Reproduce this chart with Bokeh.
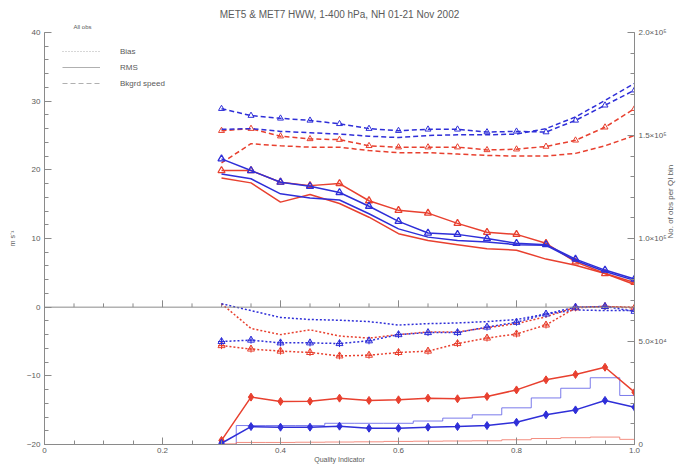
from math import pi
from bokeh.plotting import figure
from bokeh.models import (Range1d, LinearAxis, FixedTicker, Span, Legend, LegendItem, Title)
from bokeh.embed import file_html
from bokeh.resources import INLINE

# ---------------- data ----------------
qi = [0.30, 0.35, 0.40, 0.45, 0.50, 0.55, 0.60, 0.65, 0.70, 0.75, 0.80, 0.85, 0.90, 0.95, 1.00]

# background speed (dashed), m/s
speed_blue_tri = [28.9, 27.9, 27.5, 27.2, 26.7, 26.0, 25.7, 25.9, 25.9, 25.5, 25.6, 25.5, 27.2, 29.4, 31.6]
speed_blue     = [25.9, 26.0, 25.6, 25.4, 25.2, 24.9, 24.7, 25.0, 25.1, 25.1, 25.2, 26.0, 27.7, 30.1, 32.6]
speed_red_tri  = [25.7, 26.0, 24.9, 24.5, 24.4, 23.5, 23.3, 23.3, 23.3, 22.9, 23.0, 23.4, 24.3, 26.2, 28.9]
speed_red      = [21.0, 23.8, 23.5, 23.3, 23.3, 22.8, 22.5, 22.5, 22.3, 22.1, 22.0, 22.0, 22.4, 23.5, 25.0]

# RMS (solid), m/s
rms_blue_tri = [21.6, 19.9, 18.2, 17.6, 16.7, 14.7, 12.5, 10.8, 10.6, 10.0, 9.3, 9.1, 7.0, 5.4, 4.1]
rms_red_tri  = [19.9, 19.9, 18.2, 17.7, 18.0, 15.5, 14.1, 13.7, 12.2, 10.9, 10.6, 9.3, 6.6, 4.9, 3.6]
rms_blue     = [19.4, 18.7, 16.5, 15.9, 15.6, 13.6, 11.4, 10.2, 9.7, 9.5, 9.1, 9.0, 6.8, 5.2, 3.9]
rms_red      = [18.8, 18.1, 15.3, 16.4, 15.1, 13.1, 10.7, 9.7, 9.1, 8.5, 8.3, 7.0, 6.1, 4.9, 3.3]

# Bias (dotted), m/s
bias_blue_tri = [-5.0, -4.8, -5.2, -5.2, -5.3, -4.9, -4.0, -3.7, -3.7, -2.9, -2.2, -1.0, 0.0, 0.1, -0.6]
bias_red_tri  = [-5.6, -6.1, -6.4, -6.6, -7.1, -7.0, -6.6, -6.4, -5.3, -4.5, -3.9, -2.6, -0.1, 0.1, -0.1]
bias_blue     = [0.5, -0.5, -1.5, -1.8, -1.9, -2.1, -2.6, -2.4, -2.3, -2.1, -1.8, -1.0, -0.4, -0.5, -0.5]
bias_red      = [0.5, -3.1, -4.0, -3.3, -4.2, -4.5, -4.0, -3.6, -3.6, -3.0, -2.4, -1.4, 0.0, 0.1, 0.0]

# Number of obs per QI bin (right axis)
count_red_dia  = [2000, 23000, 20900, 21000, 22500, 21400, 21700, 22500, 22200, 23300, 26500, 31400, 34000, 37500, 25400]
count_blue_dia = [600, 8700, 8400, 8400, 8900, 7900, 7900, 8400, 8700, 9200, 10800, 14400, 16800, 21400, 18100]
hist_blue      = [0, 9200, 9200, 9200, 10300, 10300, 10300, 11400, 12800, 14400, 17800, 22600, 27300, 32400, 23800]
hist_red       = [300, 1000, 1000, 1100, 1200, 1300, 1500, 1600, 1700, 1800, 2300, 2900, 3300, 3600, 2500]

# axis ticks / labels
x_major = [0, 0.2, 0.4, 0.6, 0.8, 1.0]
x_labels = {0: "0", 0.2: "0.2", 0.4: "0.4", 0.6: "0.6", 0.8: "0.8", 1.0: "1.0"}
x_minor = [i * 0.05 for i in range(21)]
y_major = [-20, -10, 0, 10, 20, 30, 40]
y_minor = list(range(-20, 41, 2))
n_major = [0, 50000, 100000, 150000, 200000]
n_labels = {0: "0", 50000: "5.0\u00d710\u2074", 100000: "1.0\u00d710\u2075",
            150000: "1.5\u00d710\u2075", 200000: "2.0\u00d710\u2075"}
n_minor = list(range(0, 200001, 10000))

title_text = "MET5 & MET7 HWW, 1-400 hPa, NH 01-21 Nov 2002"
subtitle_text = "All obs"
x_title = "Quality Indicator"
y_title = "m s\u207b\u00b9"
n_title = "No. of obs per QI bin"

RED = "#e8402f"
BLUE = "#2f2fd8"
AX = "#8a8a8a"
TXT = "#5a5a5a"
FONT = "Liberation Sans"

p = figure(width=682, height=465, x_range=Range1d(0, 1), y_range=Range1d(-20, 40),
           output_backend="svg", toolbar_location=None,
           min_border_left=44, min_border_right=47, min_border_top=32, min_border_bottom=21,
           x_axis_type=None, y_axis_type=None)
p.outline_line_color = None
p.background_fill_color = "white"
p.border_fill_color = "white"
p.extra_y_ranges = {"count": Range1d(0, 200000)}


def style_axis(ax):
    ax.axis_line_color = AX
    ax.major_tick_line_color = AX
    ax.minor_tick_line_color = AX
    ax.major_tick_in = 7
    ax.major_tick_out = 0
    ax.minor_tick_in = 4
    ax.minor_tick_out = 0
    ax.major_label_text_font = FONT
    ax.major_label_text_font_size = "8px"
    ax.major_label_text_color = TXT
    ax.major_label_standoff = 4
    ax.axis_label_text_font = FONT
    ax.axis_label_text_font_style = "normal"
    ax.axis_label_text_color = TXT


xax = LinearAxis(ticker=FixedTicker(ticks=x_major, minor_ticks=x_minor), major_label_overrides=x_labels,
                 axis_label=x_title)
style_axis(xax)
xax.major_label_standoff = 3
xax.axis_label_standoff = 0
xax.axis_label_text_font_size = "7px"
p.add_layout(xax, "below")

yax = LinearAxis(ticker=FixedTicker(ticks=y_major, minor_ticks=y_minor), axis_label=y_title)
style_axis(yax)
yax.axis_label_standoff = 8
yax.axis_label_text_font_size = "7px"
p.add_layout(yax, "left")

rax = LinearAxis(y_range_name="count", ticker=FixedTicker(ticks=n_major, minor_ticks=n_minor),
                 major_label_overrides=n_labels, axis_label=n_title)
style_axis(rax)
rax.axis_label_standoff = 1
rax.axis_label_text_font_size = "8px"
rax.axis_label_orientation = pi / 2
p.add_layout(rax, "right")

# titles
sub = Title(text=subtitle_text, align="left", offset=29, text_font=FONT, text_font_size="6px",
            text_font_style="normal", text_color=TXT, standoff=5)
p.add_layout(sub, "above")
ttl = Title(text=title_text, align="center", text_font=FONT, text_font_size="10px",
            text_font_style="normal", text_color=TXT, standoff=0)
p.add_layout(ttl, "above")

# zero line with upward ticks
p.add_layout(Span(location=0, dimension="width", line_color=AX, line_width=1))
p.segment(x0=x_major, y0=[0] * len(x_major), x1=x_major, y1=[1.0] * len(x_major), line_color=AX, line_width=1)
p.segment(x0=x_minor, y0=[0] * len(x_minor), x1=x_minor, y1=[0.55] * len(x_minor), line_color=AX, line_width=1)

LW = 1.5
DASH = "5 3"
DOT = "2 2"

# histograms (thin)
p.step(qi, hist_blue, mode="center", y_range_name="count", line_color="#5a5ae6", line_width=1, line_alpha=0.8)
p.step(qi, hist_red, mode="center", y_range_name="count", line_color="#f07060", line_width=1, line_alpha=0.8)

# background speed
p.line(qi, speed_red, line_color=RED, line_width=LW, line_dash=DASH)
p.line(qi, speed_red_tri, line_color=RED, line_width=LW, line_dash=DASH)
p.scatter(qi, speed_red_tri, marker="triangle", size=6, line_color=RED, fill_color=None)
p.line(qi, speed_blue, line_color=BLUE, line_width=LW, line_dash=DASH)
p.line(qi, speed_blue_tri, line_color=BLUE, line_width=LW, line_dash=DASH)
p.scatter(qi, speed_blue_tri, marker="triangle", size=6, line_color=BLUE, fill_color=None)

# RMS
p.line(qi, rms_red, line_color=RED, line_width=LW)
p.line(qi, rms_red_tri, line_color=RED, line_width=LW)
p.scatter(qi, rms_red_tri, marker="triangle", size=7, line_color=RED, fill_color=None, line_width=1.3)
p.line(qi, rms_blue, line_color=BLUE, line_width=LW)
p.line(qi, rms_blue_tri, line_color=BLUE, line_width=LW)
p.scatter(qi, rms_blue_tri, marker="triangle", size=7, line_color=BLUE, fill_color=None, line_width=1.3)

# Bias
p.line(qi, bias_red, line_color=RED, line_width=LW, line_dash=DOT)
p.line(qi, bias_blue, line_color=BLUE, line_width=LW, line_dash=DOT)
p.line(qi, bias_red_tri, line_color=RED, line_width=LW, line_dash=DOT)
p.scatter(qi, bias_red_tri, marker="triangle", size=7, line_color=RED, fill_color=None)
p.scatter(qi, bias_red_tri, marker="cross", size=7, line_color=RED)
p.line(qi, bias_blue_tri, line_color=BLUE, line_width=LW, line_dash=DOT)
p.scatter(qi, bias_blue_tri, marker="triangle", size=7, line_color=BLUE, fill_color=None)
p.scatter(qi, bias_blue_tri, marker="cross", size=7, line_color=BLUE)

# counts with diamonds
p.line(qi, count_red_dia, y_range_name="count", line_color=RED, line_width=LW)
p.scatter(qi, count_red_dia, y_range_name="count", marker="diamond", size=8, line_color=RED, fill_color=RED)
p.line(qi, count_blue_dia, y_range_name="count", line_color=BLUE, line_width=LW)
p.scatter(qi, count_blue_dia, y_range_name="count", marker="diamond", size=8, line_color=BLUE, fill_color=BLUE)

# legend (proxy renderers placed outside the visible range)
LG = "#b0b0b0"
proxy_x = [-5, -4]
proxy_y = [-100, -100]
r_bias = p.line(proxy_x, proxy_y, line_color=LG, line_width=1.2, line_dash="1 2")
r_rms = p.line(proxy_x, proxy_y, line_color=LG, line_width=1.2)
r_bk = p.line(proxy_x, proxy_y, line_color=LG, line_width=1.2, line_dash="5 3")
legend = Legend(items=[LegendItem(label="Bias", renderers=[r_bias]),
                       LegendItem(label="RMS", renderers=[r_rms]),
                       LegendItem(label="Bkgrd speed", renderers=[r_bk])],
                location=(18, 355), orientation="vertical",
                background_fill_alpha=0, border_line_alpha=0,
                glyph_width=38, glyph_height=12, label_height=12, label_standoff=20,
                spacing=4, padding=0, margin=0,
                label_text_font=FONT, label_text_font_size="8px", label_text_color=TXT)
p.add_layout(legend)

open("out.html", "w").write(file_html(p, INLINE))
